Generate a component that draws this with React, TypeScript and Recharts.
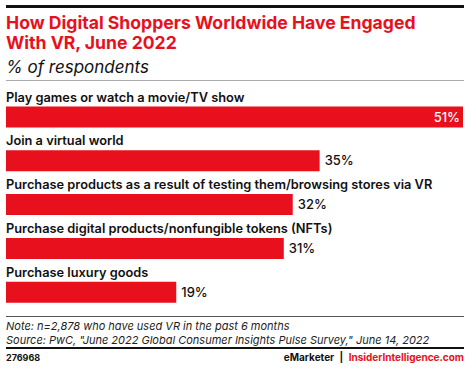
import React from 'react';
import { BarChart, Bar, XAxis, YAxis, LabelList } from 'recharts';

const categories = [
  'Play games or watch a movie/TV show',
  'Join a virtual world',
  'Purchase products as a result of testing them/browsing stores via VR',
  'Purchase digital products/nonfungible tokens (NFTs)',
  'Purchase luxury goods',
];
const values = [51, 35, 32, 31, 19];

const RED = '#E8101D';
const FONT = 'Inter, "Noto Sans", sans-serif';

const data = categories.map((name, i) => ({ name, value: values[i] }));

const NameLabel = (props: any) => {
  const { x, y, value } = props;
  return (
    <text x={x} y={y - 5} fontSize={12.8} fontWeight={600} fill="#111" fontFamily={FONT}>
      {value}
    </text>
  );
};

const ValueLabel = (props: any) => {
  const { x, y, width, height, value } = props;
  const inside = value >= 45;
  return (
    <text
      x={inside ? x + width - 3 : x + width + 5}
      y={y + height / 2}
      dy={4.5}
      textAnchor={inside ? 'end' : 'start'}
      fontSize={13}
      fontWeight={500}
      fill={inside ? '#fff' : '#111'}
      fontFamily={FONT}
    >
      {value}%
    </text>
  );
};

const Rule = ({ top, h, color }: { top: number; h: number; color: string }) => (
  <div
    style={{
      position: 'absolute',
      left: 6,
      top,
      width: 458,
      height: h,
      backgroundColor: color,
      zIndex: 5,
    }}
  />
);

const App = () => {
  return (
    <div style={{ position: 'relative', width: 470, height: 369, background: '#fff', fontFamily: FONT }}>
      <style>{'body{margin:0}'}</style>
      <div style={{ position: 'absolute', left: 0, top: 0 }}>
        <BarChart
          width={470}
          height={369}
          layout="vertical"
          data={data}
          margin={{ top: 95.6, right: 7, bottom: 54.6, left: 6 }}
          barSize={21}
        >
          <XAxis type="number" domain={[0, 51]} hide />
          <YAxis type="category" dataKey="name" hide />
          <Bar dataKey="value" fill={RED} isAnimationActive={false}>
            <LabelList dataKey="name" content={NameLabel} />
            <LabelList dataKey="value" content={ValueLabel} />
          </Bar>
        </BarChart>
      </div>

      <Rule top={5} h={3} color="#111" />
      <Rule top={80} h={1} color="#aaa" />
      <Rule top={316} h={1} color="#555" />
      <Rule top={347} h={2} color="#111" />

      <div
        style={{
          position: 'absolute',
          left: 6,
          top: 13,
          color: RED,
          fontSize: 17.6,
          fontWeight: 700,
          lineHeight: '20px',
        }}
      >
        How Digital Shoppers Worldwide Have Engaged
        <br />
        With VR, June 2022
      </div>
      <div style={{ position: 'absolute', left: 6, top: 57, fontSize: 17, fontStyle: 'italic', color: '#111' }}>
        % of respondents
      </div>
      <div
        style={{
          position: 'absolute',
          left: 6,
          top: 319,
          fontSize: 11,
          fontStyle: 'italic',
          lineHeight: '14px',
          color: '#222',
        }}
      >
        Note: n=2,878 who have used VR in the past 6 months
        <br />
        Source: PwC, "June 2022 Global Consumer Insights Pulse Survey," June 14, 2022
      </div>
      <div style={{ position: 'absolute', left: 6, top: 352, fontSize: 9, fontWeight: 700, color: '#111' }}>276968</div>
      <div
        style={{
          position: 'absolute',
          right: 6,
          top: 351,
          fontSize: 10,
          fontWeight: 700,
          color: '#111',
        }}
      >
        eMarketer <span style={{ margin: '0 3px' }}>|</span> <span style={{ color: RED }}>InsiderIntelligence.com</span>
      </div>
    </div>
  );
};

export default App;
